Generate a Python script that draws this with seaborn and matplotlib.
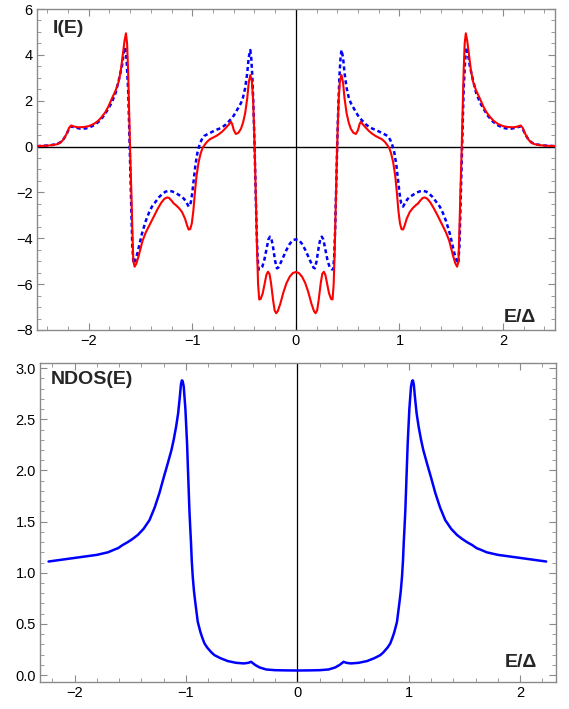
import matplotlib
matplotlib.use("Agg")
import matplotlib.pyplot as plt
from matplotlib.ticker import MultipleLocator, FormatStrFormatter
import pandas as pd
import seaborn as sns

# I(E), solid red curve
red_e = [-2.50, -2.45, -2.40, -2.34, -2.30, -2.27, -2.25, -2.23, -2.21, -2.19, -2.17, -2.14, -2.10, -2.05, -2.00,
         -1.95, -1.91, -1.873, -1.84, -1.81, -1.776, -1.74, -1.71, -1.69, -1.67, -1.655, -1.641, -1.63, -1.62, -1.61,
         -1.60, -1.59, -1.58, -1.57, -1.557, -1.54, -1.52, -1.50, -1.48, -1.45, -1.42, -1.39, -1.36, -1.33, -1.30,
         -1.27, -1.245, -1.225, -1.20, -1.18, -1.16, -1.13, -1.10, -1.07, -1.05, -1.035, -1.02, -1.005, -0.99, -0.975,
         -0.96, -0.94, -0.92, -0.90, -0.88, -0.86, -0.83, -0.80, -0.77, -0.74, -0.71, -0.68, -0.65, -0.627, -0.615,
         -0.60, -0.58, -0.555, -0.53, -0.51, -0.49, -0.47, -0.455, -0.44, -0.425, -0.415, -0.405, -0.395, -0.385,
         -0.375, -0.365, -0.354, -0.34, -0.32, -0.30, -0.285, -0.27, -0.255, -0.24, -0.22, -0.205, -0.19, -0.175,
         -0.15, -0.12, -0.09, -0.06, -0.03,
         0.00, 0.03, 0.06, 0.09, 0.12, 0.15, 0.175, 0.19, 0.205, 0.22, 0.24, 0.255, 0.27, 0.285, 0.30, 0.32, 0.34,
         0.354, 0.365, 0.375, 0.385, 0.395, 0.405, 0.415, 0.425, 0.44, 0.455, 0.47, 0.49, 0.51, 0.53, 0.555, 0.58,
         0.60, 0.615, 0.627, 0.65, 0.68, 0.71, 0.74, 0.77, 0.80, 0.83, 0.86, 0.88, 0.90, 0.92, 0.94, 0.96, 0.975,
         0.99, 1.005, 1.02, 1.035, 1.05, 1.07, 1.10, 1.13, 1.16, 1.18, 1.20, 1.225, 1.245, 1.27, 1.30, 1.33, 1.36,
         1.39, 1.42, 1.45, 1.48, 1.50, 1.52, 1.54, 1.557, 1.57, 1.58, 1.59, 1.60, 1.61, 1.62, 1.63, 1.641, 1.655,
         1.67, 1.69, 1.71, 1.74, 1.776, 1.81, 1.84, 1.873, 1.91, 1.95, 2.00, 2.05, 2.10, 2.14, 2.17, 2.19, 2.21,
         2.23, 2.25, 2.27, 2.30, 2.34, 2.40, 2.45, 2.50]
red_i = [0.02, 0.03, 0.04, 0.07, 0.11, 0.18, 0.28, 0.42, 0.60, 0.82, 0.92, 0.87, 0.84, 0.85, 0.89,
         0.99, 1.12, 1.30, 1.50, 1.75, 2.10, 2.45, 2.85, 3.34, 4.05, 4.60, 4.94, 4.50, 3.30, 1.50,
         -0.30, -1.80, -3.50, -5.00, -5.24, -5.10, -4.80, -4.45, -4.10, -3.75, -3.48, -3.20, -2.93, -2.68, -2.45,
         -2.28, -2.22, -2.24, -2.36, -2.48, -2.55, -2.68, -2.85, -3.15, -3.45, -3.62, -3.60, -3.35, -2.80, -2.00,
         -1.30, -0.70, -0.30, -0.05, 0.08, 0.20, 0.32, 0.39, 0.46, 0.55, 0.66, 0.80, 0.95, 1.08, 0.98,
         0.72, 0.55, 0.60, 0.78, 1.05, 1.45, 2.10, 2.80, 3.12, 2.85, 2.20, 1.00, -0.60, -2.50,
         -4.50, -6.00, -6.67, -6.65, -6.40, -5.95, -5.60, -5.46, -5.55, -5.95, -6.70, -7.15, -7.27, -7.18,
         -6.85, -6.35, -5.95, -5.68, -5.52,
         -5.47, -5.52, -5.68, -5.95, -6.35, -6.85, -7.18, -7.27, -7.15, -6.70, -5.95, -5.55, -5.46, -5.60, -5.95,
         -6.40, -6.65, -6.67, -6.00, -4.50, -2.50, -0.60, 1.00, 2.20, 2.85, 3.12, 2.80, 2.10, 1.45, 1.05, 0.78,
         0.60, 0.55, 0.72, 0.98, 1.08, 0.95, 0.80, 0.66, 0.55, 0.46, 0.39, 0.32, 0.20, 0.08, -0.05, -0.30, -0.70,
         -1.30, -2.00, -2.80, -3.35, -3.60, -3.62, -3.45, -3.15, -2.85, -2.68, -2.55, -2.48, -2.36, -2.24, -2.22,
         -2.28, -2.45, -2.68, -2.93, -3.20, -3.48, -3.75, -4.10, -4.45, -4.80, -5.10, -5.24, -5.00, -3.50, -1.80,
         -0.30, 1.50, 3.30, 4.50, 4.94, 4.60, 4.05, 3.34, 2.85, 2.45, 2.10, 1.75, 1.50, 1.30, 1.12, 0.99, 0.89,
         0.85, 0.84, 0.87, 0.92, 0.82, 0.60, 0.42, 0.28, 0.18, 0.11, 0.07, 0.04, 0.03, 0.02]

# I(E), dashed blue curve
blue_e = [-2.50, -2.45, -2.38, -2.32, -2.28, -2.25, -2.23, -2.21, -2.19, -2.17, -2.13, -2.08, -2.03, -2.00, -1.95,
          -1.905, -1.85, -1.81, -1.78, -1.74, -1.71, -1.68, -1.66, -1.648, -1.635, -1.62, -1.61, -1.60, -1.59,
          -1.58, -1.568, -1.55, -1.53, -1.51, -1.486, -1.45, -1.42, -1.39, -1.35, -1.32, -1.29, -1.26, -1.23,
          -1.20, -1.17, -1.14, -1.11, -1.08, -1.055, -1.035, -1.015, -1.00, -0.985, -0.97, -0.95, -0.93, -0.91,
          -0.886, -0.85, -0.81, -0.774, -0.74, -0.71, -0.68, -0.647, -0.61, -0.58, -0.55, -0.53, -0.51, -0.49,
          -0.47, -0.455, -0.44, -0.43, -0.42, -0.41, -0.40, -0.39, -0.38, -0.37, -0.36, -0.345, -0.325, -0.305,
          -0.285, -0.265, -0.25, -0.235, -0.22, -0.20, -0.183, -0.17, -0.15, -0.12, -0.09, -0.06, -0.03,
          0.00, 0.03, 0.06, 0.09, 0.12, 0.15, 0.17, 0.183, 0.20, 0.22, 0.235, 0.25, 0.265, 0.285, 0.305, 0.325,
          0.345, 0.36, 0.37, 0.38, 0.39, 0.40, 0.41, 0.42, 0.43, 0.44, 0.455, 0.47, 0.49, 0.51, 0.53, 0.55, 0.58,
          0.61, 0.647, 0.68, 0.71, 0.74, 0.774, 0.81, 0.85, 0.886, 0.91, 0.93, 0.95, 0.97, 0.985, 1.00, 1.015,
          1.035, 1.055, 1.08, 1.11, 1.14, 1.17, 1.20, 1.23, 1.26, 1.29, 1.32, 1.35, 1.39, 1.42, 1.45, 1.486, 1.51,
          1.53, 1.55, 1.568, 1.58, 1.59, 1.60, 1.61, 1.62, 1.635, 1.648, 1.66, 1.68, 1.71, 1.74, 1.78, 1.81, 1.85,
          1.905, 1.95, 2.00, 2.03, 2.08, 2.13, 2.17, 2.19, 2.21, 2.23, 2.25, 2.28, 2.32, 2.38, 2.45, 2.50]
blue_i = [0.02, 0.03, 0.05, 0.10, 0.17, 0.28, 0.42, 0.58, 0.78, 0.88, 0.83, 0.78, 0.79, 0.82, 0.93,
          1.08, 1.36, 1.67, 1.90, 2.35, 2.90, 3.50, 4.10, 4.33, 3.80, 2.50, 0.90, -0.90, -2.60,
          -4.30, -5.10, -4.95, -4.65, -4.25, -3.79, -3.25, -2.90, -2.62, -2.38, -2.20, -2.07, -1.97, -1.93,
          -1.95, -2.00, -2.08, -2.17, -2.28, -2.45, -2.62, -2.45, -2.00, -1.40, -0.80, -0.25, 0.08, 0.30,
          0.46, 0.55, 0.64, 0.72, 0.78, 0.85, 0.95, 1.10, 1.28, 1.50, 1.74, 1.90, 2.15, 2.55,
          3.20, 3.90, 4.21, 3.80, 3.00, 1.80, 0.20, -1.60, -3.50, -4.80, -5.36, -5.35, -5.25, -4.95,
          -4.50, -4.05, -3.93, -4.05, -4.40, -5.00, -5.31, -5.28, -5.10, -4.80, -4.50, -4.25, -4.08,
          -4.05, -4.08, -4.25, -4.50, -4.80, -5.10, -5.28, -5.31, -5.00, -4.40, -4.05, -3.93, -4.05, -4.50, -4.95,
          -5.25, -5.35, -5.36, -4.80, -3.50, -1.60, 0.20, 1.80, 3.00, 3.80, 4.21, 3.90, 3.20, 2.55, 2.15, 1.90,
          1.74, 1.50, 1.28, 1.10, 0.95, 0.85, 0.78, 0.72, 0.64, 0.55, 0.46, 0.30, 0.08, -0.25, -0.80, -1.40,
          -2.00, -2.45, -2.62, -2.45, -2.28, -2.17, -2.08, -2.00, -1.95, -1.93, -1.97, -2.07, -2.20, -2.38, -2.62,
          -2.90, -3.25, -3.79, -4.25, -4.65, -4.95, -5.10, -4.30, -2.60, -0.90, 0.90, 2.50, 3.80, 4.33, 4.10,
          3.50, 2.90, 2.35, 1.90, 1.67, 1.36, 1.08, 0.93, 0.82, 0.79, 0.78, 0.83, 0.88, 0.78, 0.58, 0.42,
          0.28, 0.17, 0.10, 0.05, 0.03, 0.02]

# NDOS(E)
ndos_e = [-2.233, -2.10, -2.00, -1.90, -1.80, -1.70, -1.635, -1.61, -1.57, -1.522, -1.48, -1.432, -1.38, -1.327,
          -1.28, -1.238, -1.20, -1.163, -1.13, -1.11, -1.088, -1.07, -1.055, -1.045, -1.037, -1.03, -1.02, -1.005,
          -0.99, -0.98, -0.969, -0.962, -0.955, -0.948, -0.939, -0.928, -0.915, -0.894, -0.87, -0.855, -0.834,
          -0.81, -0.77, -0.744, -0.69, -0.625, -0.55, -0.48, -0.44, -0.415, -0.38, -0.34, -0.28, -0.20, -0.10,
          0.00, 0.10, 0.20, 0.28, 0.34, 0.38, 0.415, 0.44, 0.48, 0.55, 0.625, 0.69, 0.744, 0.77, 0.81, 0.834,
          0.855, 0.87, 0.894, 0.915, 0.928, 0.939, 0.948, 0.955, 0.962, 0.969, 0.98, 0.99, 1.005, 1.02, 1.03,
          1.037, 1.045, 1.055, 1.07, 1.088, 1.11, 1.13, 1.163, 1.20, 1.238, 1.28, 1.327, 1.38, 1.432, 1.48, 1.522,
          1.57, 1.61, 1.635, 1.70, 1.80, 1.90, 2.00, 2.10, 2.233]
ndos_v = [1.11, 1.13, 1.145, 1.16, 1.175, 1.20, 1.23, 1.24, 1.27, 1.30, 1.33, 1.37, 1.43, 1.515,
          1.64, 1.78, 1.93, 2.07, 2.20, 2.30, 2.43, 2.56, 2.72, 2.84, 2.88, 2.875, 2.82, 2.60,
          2.26, 1.95, 1.61, 1.45, 1.30, 1.12, 0.96, 0.82, 0.70, 0.52, 0.42, 0.37, 0.31,
          0.27, 0.22, 0.195, 0.165, 0.137, 0.12, 0.114, 0.12, 0.13, 0.10, 0.075, 0.055, 0.048, 0.046,
          0.045, 0.046, 0.048, 0.055, 0.075, 0.10, 0.13, 0.12, 0.114, 0.12, 0.137, 0.165, 0.195, 0.22, 0.27, 0.31,
          0.37, 0.42, 0.52, 0.70, 0.82, 0.96, 1.12, 1.30, 1.45, 1.61, 1.95, 2.26, 2.60, 2.82, 2.875,
          2.88, 2.84, 2.72, 2.56, 2.43, 2.30, 2.20, 2.07, 1.93, 1.78, 1.64, 1.515, 1.43, 1.37, 1.33, 1.30,
          1.27, 1.24, 1.23, 1.20, 1.175, 1.16, 1.145, 1.13, 1.11]

sns.set_style("white")
plt.rcParams['font.family'] = ['Liberation Sans', 'DejaVu Sans']

red_df = pd.DataFrame({"E": red_e, "I": red_i})
blue_df = pd.DataFrame({"E": blue_e, "I": blue_i})
ndos_df = pd.DataFrame({"E": ndos_e, "N": ndos_v})

fig = plt.figure(figsize=(5.69, 7.09), dpi=100)
ax1 = fig.add_axes([0.065, 0.5346, 0.910, 0.4527])
ax2 = fig.add_axes([0.0703, 0.038, 0.9066, 0.450])

frame_col = '#8a8a8a'


def frame_style(ax):
    for s in ax.spines.values():
        s.set_color(frame_col)
        s.set_linewidth(1.0)
    ax.tick_params(which='both', direction='in', bottom=True, left=True, top=True, right=True,
                   color=frame_col, labelsize=10.5, labelcolor='black', pad=3)
    ax.tick_params(which='major', length=5, width=0.8)
    ax.tick_params(which='minor', length=2.8, width=0.6)
    ax.set_xlabel('')
    ax.set_ylabel('')


# top panel
ax1.axhline(0, color='black', lw=1.0, zorder=1)
ax1.axvline(0, color='black', lw=0.9, zorder=1)
sns.lineplot(data=blue_df, x="E", y="I", ax=ax1, color='#0000ff', lw=1.8,
             linestyle=(0, (1.6, 1.2)), sort=False, estimator=None, zorder=2)
sns.lineplot(data=red_df, x="E", y="I", ax=ax1, color='#ff0000', lw=1.5,
             sort=False, estimator=None, zorder=3)
ax1.set_xlim(-2.5, 2.5)
ax1.set_ylim(-8, 6)
ax1.xaxis.set_major_locator(MultipleLocator(1))
ax1.xaxis.set_minor_locator(MultipleLocator(0.2))
ax1.yaxis.set_major_locator(MultipleLocator(2))
ax1.yaxis.set_minor_locator(MultipleLocator(0.5))
frame_style(ax1)
ax1.text(0.03, 0.965, 'I(E)', transform=ax1.transAxes, fontsize=14,
         fontweight='bold', ha='left', va='top')
ax1.text(0.963, 0.012, 'E/Δ', transform=ax1.transAxes, fontsize=14,
         fontweight='bold', ha='right', va='bottom')

# bottom panel
ax2.axvline(0, color='black', lw=0.9, zorder=1)
sns.lineplot(data=ndos_df, x="E", y="N", ax=ax2, color='#0000ff', lw=1.8,
             sort=False, estimator=None, zorder=3)
ax2.set_xlim(-2.31, 2.32)
ax2.set_ylim(-0.068, 3.05)
ax2.xaxis.set_major_locator(MultipleLocator(1))
ax2.xaxis.set_minor_locator(MultipleLocator(0.2))
ax2.yaxis.set_major_locator(MultipleLocator(0.5))
ax2.yaxis.set_minor_locator(MultipleLocator(0.1))
ax2.yaxis.set_major_formatter(FormatStrFormatter('%.1f'))
frame_style(ax2)
ax2.text(0.02, 0.975, 'NDOS(E)', transform=ax2.transAxes, fontsize=14,
         fontweight='bold', ha='left', va='top')
ax2.text(0.963, 0.035, 'E/Δ', transform=ax2.transAxes, fontsize=14,
         fontweight='bold', ha='right', va='bottom')

fig.savefig('out.png', dpi=100)
